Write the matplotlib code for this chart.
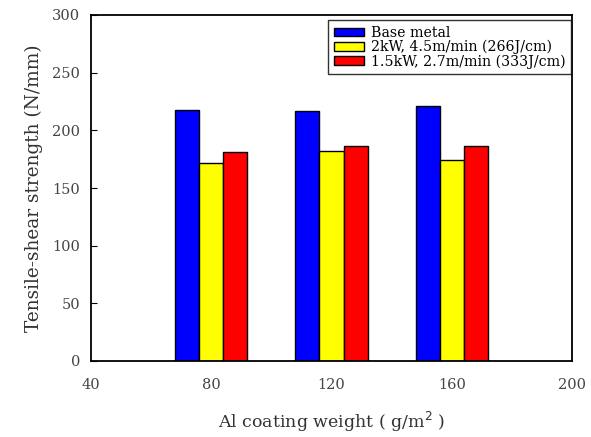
import matplotlib
matplotlib.use("Agg")
import matplotlib.pyplot as plt
import numpy as np

plt.rcParams['font.family'] = ['DejaVu Serif']

coating = [80, 120, 160]
series_names = ["Base metal", "2kW, 4.5m/min (266J/cm)", "1.5kW, 2.7m/min (333J/cm)"]
base_metal = [218, 217, 221]
kw2 = [172, 182, 174]
kw15 = [181, 186, 186]
colors = ["#0000ff", "#ffff00", "#ff0000"]
xticks = [40, 80, 120, 160, 200]
yticks = [0, 50, 100, 150, 200, 250, 300]

fig = plt.figure(figsize=(5.91, 4.37), dpi=100)
ax = fig.add_axes([91/591, 1-361/437, 481/591, 346/437])

w = 8
x = np.array(coating)
for i, (vals, c, name) in enumerate(zip([base_metal, kw2, kw15], colors, series_names)):
    ax.bar(x + (i - 1) * w, vals, width=w, color=c, edgecolor="black", linewidth=1.0, label=name)

ax.set_xlim(40, 200)
ax.set_ylim(0, 300)
ax.set_xticks(xticks)
ax.set_yticks(yticks)
ax.tick_params(axis='y', direction='in', length=4, labelsize=10.5, labelcolor='#444444', pad=8)
ax.tick_params(axis='x', length=0, labelsize=10.5, labelcolor='#444444', pad=12)
for s in ax.spines.values():
    s.set_linewidth(1.3)

ax.set_xlabel("Al coating weight ( g/m$^2$ )", fontsize=12.5, color='#333333', labelpad=13)
ax.set_ylabel("Tensile-shear strength (N/mm)", fontsize=13.3, color='#333333', labelpad=6)

leg = ax.legend(loc='upper right', bbox_to_anchor=(0.998, 0.985), fontsize=10.2, frameon=True,
                fancybox=False, edgecolor='black', handlelength=2.1, handleheight=0.55,
                borderpad=0.4, labelspacing=0.0, handletextpad=0.5, borderaxespad=0.0)
leg.get_frame().set_linewidth(1.0)

fig.savefig("out.png", dpi=100)
